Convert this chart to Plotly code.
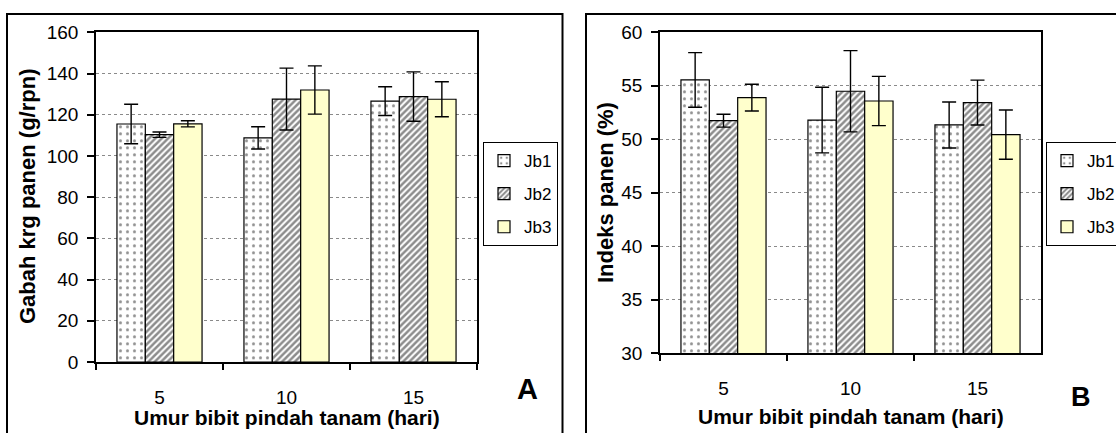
import plotly.graph_objects as go

W, H = 1116, 433

# ---------------- data ----------------
categories = ["5", "10", "15"]
series_names = ["Jb1", "Jb2", "Jb3"]

# Panel A: Gabah krg panen (g/rpn)
a_jb1 = [115.5, 108.8, 126.6]
a_jb2 = [110.3, 127.6, 128.8]
a_jb3 = [115.6, 132.0, 127.5]
a_err_jb1 = [9.6, 5.4, 7.0]
a_err_jb2 = [1.3, 15.0, 12.0]
a_err_jb3 = [1.5, 11.7, 8.5]

# Panel B: Indeks panen (%)
b_jb1 = [55.55, 51.8, 51.34]
b_jb2 = [51.74, 54.49, 53.43]
b_jb3 = [53.9, 53.58, 50.44]
b_err_jb1 = [2.55, 3.07, 2.15]
b_err_jb2 = [0.6, 3.8, 2.1]
b_err_jb3 = [1.25, 2.3, 2.3]

a_ticks = [0, 20, 40, 60, 80, 100, 120, 140, 160]
b_ticks = [30, 35, 40, 45, 50, 55, 60]

x_title = "Umur bibit pindah tanam (hari)"
a_ytitle = "Gabah krg panen (g/rpn)"
b_ytitle = "Indeks panen (%)"

# ---------------- styling ----------------
FONT = "Arial, Liberation Sans, sans-serif"


def px(x):
    return x / W


def py(y):
    return 1 - y / H


styles = [
    dict(color="white", pattern=dict(shape=".", size=7, solidity=0.15,
                                     fgcolor="#222", bgcolor="white", fillmode="overlay")),
    dict(color="white", pattern=dict(shape="/", size=4.5, solidity=0.55,
                                     fgcolor="#1a1a1a", bgcolor="white", fillmode="overlay")),
    dict(color="#FFFFCC"),
]

fig = go.Figure()

panel_a = [(a_jb1, a_err_jb1), (a_jb2, a_err_jb2), (a_jb3, a_err_jb3)]
panel_b = [(b_jb1, b_err_jb1), (b_jb2, b_err_jb2), (b_jb3, b_err_jb3)]

for i, (vals, errs) in enumerate(panel_a):
    fig.add_trace(go.Bar(
        x=categories, y=vals, name=series_names[i],
        marker=dict(**styles[i], line=dict(color="black", width=1.2)),
        error_y=dict(type="data", array=errs, color="black", thickness=1.4, width=7),
        xaxis="x", yaxis="y", legend="legend", legendgroup="a%d" % i,
        offsetgroup=str(i),
    ))

for i, (vals, errs) in enumerate(panel_b):
    fig.add_trace(go.Bar(
        x=categories, y=vals, name=series_names[i],
        marker=dict(**styles[i], line=dict(color="black", width=1.2)),
        error_y=dict(type="data", array=errs, color="black", thickness=1.4, width=7),
        xaxis="x2", yaxis="y2", legend="legend2", legendgroup="b%d" % i,
        offsetgroup=str(i),
    ))

xcommon = dict(type="category", categoryorder="array", categoryarray=categories,
               showgrid=False, showline=True, linecolor="black", linewidth=1.5,
               mirror=True, ticks="outside", tickson="boundaries", ticklen=6,
               tickcolor="black", tickwidth=1.5, automargin=False,
               tickfont=dict(family=FONT, size=19, color="black"),
               ticklabelstandoff=17, zeroline=False)
ycommon = dict(showgrid=True, gridcolor="#8a8a8a", griddash="dot", gridwidth=1,
               showline=True, linecolor="black", linewidth=1.5, mirror=True,
               ticks="outside", ticklen=7, tickcolor="black", tickwidth=1.5,
               automargin=False, zeroline=False, ticklabelstandoff=5,
               tickfont=dict(family=FONT, size=19, color="black"))

legend_common = dict(font=dict(family=FONT, size=17, color="black"),
                     bordercolor="black", borderwidth=1, bgcolor="white",
                     traceorder="grouped", tracegroupgap=8, itemwidth=30,
                     xanchor="left", yanchor="top")

fig.update_layout(
    width=W, height=H,
    margin=dict(l=0, r=0, t=0, b=0, autoexpand=False),
    paper_bgcolor="white", plot_bgcolor="white",
    barmode="group", bargap=0.33, bargroupgap=0,
    xaxis=dict(domain=[px(96), px(477)], anchor="y", **xcommon),
    yaxis=dict(domain=[py(362), py(32.3)], anchor="x", range=[0, 160],
               tickvals=a_ticks, **ycommon),
    xaxis2=dict(domain=[px(660), px(1041)], anchor="y2", **xcommon),
    yaxis2=dict(domain=[py(353.3), py(32.3)], anchor="x2", range=[30, 60],
                tickvals=b_ticks, **ycommon),
    legend=dict(x=px(483), y=py(142), **legend_common),
    legend2=dict(x=px(1046), y=py(142), **legend_common),
    showlegend=True,
)

# outer frames
fig.add_shape(type="rect", xref="paper", yref="paper",
              x0=px(7), x1=px(562.5), y0=-0.1, y1=py(14),
              line=dict(color="black", width=2), fillcolor="rgba(0,0,0,0)", layer="below")
fig.add_shape(type="rect", xref="paper", yref="paper",
              x0=px(586), x1=1.1, y0=-0.1, y1=py(14),
              line=dict(color="black", width=2), fillcolor="rgba(0,0,0,0)", layer="below")

xt_font = dict(family=FONT, size=21, color="black", weight="bold")
yt_font = dict(family=FONT, size=22, color="black", weight="bold")
# axis titles
fig.add_annotation(text=x_title, xref="paper", yref="paper",
                   x=px((96 + 477) / 2), y=py(417), showarrow=False,
                   xanchor="center", yanchor="middle", font=xt_font)
fig.add_annotation(text=x_title, xref="paper", yref="paper",
                   x=px((660 + 1041) / 2), y=py(416), showarrow=False,
                   xanchor="center", yanchor="middle", font=xt_font)
fig.add_annotation(text=a_ytitle, xref="paper", yref="paper",
                   x=px(27), y=py(197), showarrow=False, textangle=-90,
                   xanchor="center", yanchor="middle", font=yt_font)
fig.add_annotation(text=b_ytitle, xref="paper", yref="paper",
                   x=px(605), y=py(193), showarrow=False, textangle=-90,
                   xanchor="center", yanchor="middle", font=yt_font)
# panel letters
fig.add_annotation(text="A", xref="paper", yref="paper", x=px(527), y=py(389),
                   showarrow=False, xanchor="center", yanchor="middle",
                   font=dict(family=FONT, size=29, color="black", weight="bold"))
fig.add_annotation(text="B", xref="paper", yref="paper", x=px(1081), y=py(397),
                   showarrow=False, xanchor="center", yanchor="middle",
                   font=dict(family=FONT, size=27, color="black", weight="bold"))

fig.write_html("out.html",
               config={"displayModeBar": False},
               post_script="document.body.style.margin='0';document.body.style.overflow='hidden';")
